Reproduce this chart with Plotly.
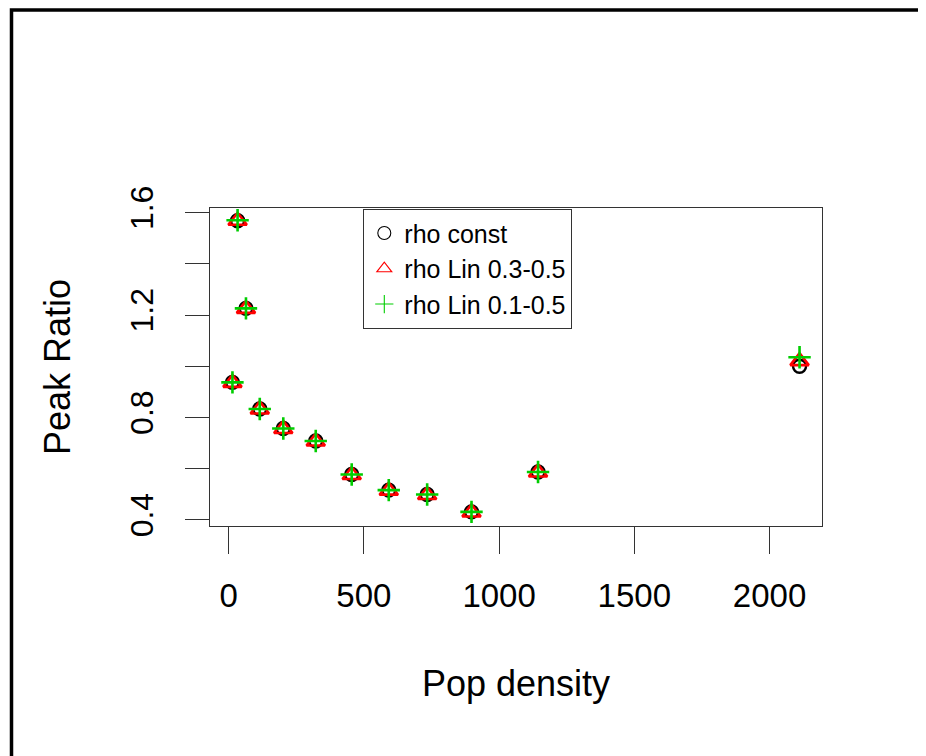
import plotly.graph_objects as go

# Data
pop_density = [33, 64, 14, 115, 202, 322, 455, 592, 734, 898, 1144, 2111]
rho_const = [1.568, 1.226, 0.937, 0.833, 0.757, 0.708, 0.577, 0.516, 0.499, 0.431, 0.587, 1.000]
rho_lin_03_05 = [1.568, 1.224, 0.935, 0.831, 0.755, 0.706, 0.575, 0.514, 0.497, 0.429, 0.585, 1.020]
rho_lin_01_05 = [1.570, 1.226, 0.937, 0.833, 0.757, 0.708, 0.577, 0.516, 0.499, 0.431, 0.587, 1.035]

series_names = ["rho const", "rho Lin 0.3-0.5", "rho Lin 0.1-0.5"]
x_ticks = [0, 500, 1000, 1500, 2000]
y_ticks = [0.4, 0.6, 0.8, 1.0, 1.2, 1.4, 1.6]
y_ticktext = ["0.4", "", "0.8", "", "1.2", "", "1.6"]

FONT = "Liberation Sans, Arial, Helvetica, sans-serif"
RED = "#FF0000"
GREEN = "#00CD00"

# the page body adds an 8px offset; plot area targeted at page x 210..822, y 208..526
OFF = 8
PL, PT, PW, PH = 210, 208, 612, 318

fig = go.Figure()

styles = [
    dict(symbol="circle-open", color="black", size=13, lw=2.4),
    dict(symbol="triangle-up-open", color=RED, size=16, lw=2.6),
    dict(symbol="cross-thin-open", color=GREEN, size=16, lw=2.6),
]
for name, ys, st in zip(series_names, [rho_const, rho_lin_03_05, rho_lin_01_05], styles):
    fig.add_trace(go.Scatter(
        x=pop_density, y=ys, mode="markers", name=name, showlegend=False,
        marker=dict(symbol=st["symbol"], size=st["size"], color=st["color"],
                    line=dict(color=st["color"], width=st["lw"])),
    ))
# legend keys (thin symbols, as in the reference legend)
for name, st in zip(series_names, styles):
    fig.add_trace(go.Scatter(
        x=[None], y=[None], mode="markers", name=name, showlegend=True,
        marker=dict(symbol=st["symbol"], size=13, color=st["color"],
                    line=dict(color=st["color"], width=1.1)),
    ))

def px_x(p):
    return (p - PL) / PW

def px_y(p):
    return (PT + PH - p) / PH

fig.update_layout(
    width=926, height=756,
    margin=dict(l=PL - OFF, r=926 - (PL - OFF) - PW, t=PT - OFF, b=756 - (PT - OFF) - PH),
    paper_bgcolor="white", plot_bgcolor="white",
    font=dict(family=FONT, color="black"),
    showlegend=True,
    legend=dict(x=px_x(363), y=px_y(209), xanchor="left", yanchor="top",
                bgcolor="white", bordercolor="#333333", borderwidth=1.3,
                font=dict(size=25, family=FONT, color="black"),
                itemwidth=30, tracegroupgap=0),
    xaxis=dict(range=[-69, 2194], tickvals=x_ticks, ticks="outside", ticklen=27,
               tickwidth=1.3, tickcolor="#333333", showline=True, linecolor="#333333",
               linewidth=1.3, mirror=True, showgrid=False, zeroline=False,
               tickfont=dict(size=33, family=FONT), ticklabelstandoff=13),
    yaxis=dict(range=[0.376, 1.618], tickvals=y_ticks, ticktext=y_ticktext,
               ticks="outside", ticklen=24, tickwidth=1.3, tickcolor="#333333",
               showline=True, linecolor="#333333", linewidth=1.3, mirror=True,
               showgrid=False, zeroline=False, tickangle=-90,
               tickfont=dict(size=32, family=FONT), ticklabelstandoff=19),
    annotations=[
        dict(text="Pop density", xref="paper", yref="paper", x=px_x(516), y=px_y(683),
             xanchor="center", yanchor="middle", showarrow=False,
             font=dict(size=36, family=FONT)),
        dict(text="Peak Ratio", xref="paper", yref="paper", x=px_x(57), y=px_y(367),
             xanchor="center", yanchor="middle", textangle=-90, showarrow=False,
             font=dict(size=36, family=FONT)),
    ],
    shapes=[
        dict(type="rect", xref="paper", yref="paper",
             x0=px_x(11.5), x1=px_x(940), y0=px_y(775), y1=px_y(10),
             line=dict(color="black", width=3.5), fillcolor="rgba(0,0,0,0)", layer="above"),
    ],
)

fig.write_html("out.html")
